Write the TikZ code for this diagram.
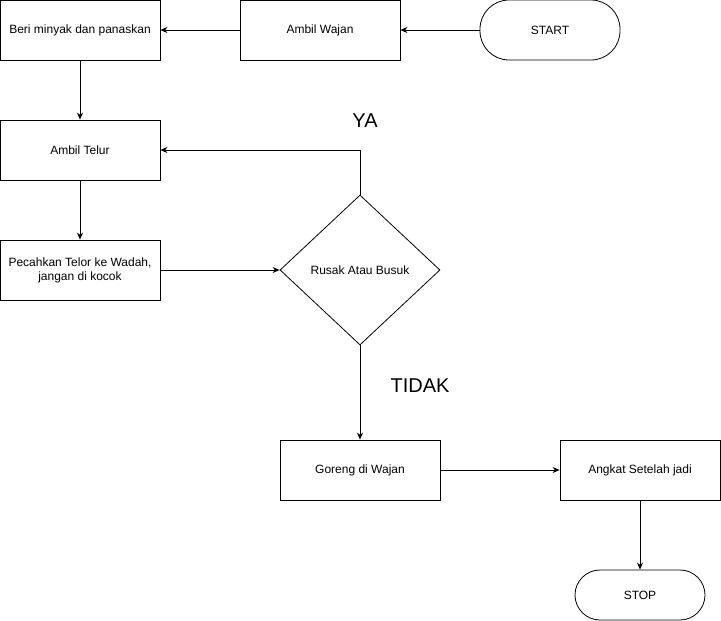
\documentclass[tikz,border=0pt]{standalone}
\usepackage{fontspec}
\setmainfont{Liberation Sans}
\usetikzlibrary{arrows.meta,shapes.geometric}

\begin{document}
\begin{tikzpicture}[x=1pt,y=-1pt,
  every node/.style={font=\fontsize{12}{14}\selectfont, align=center},
  box/.style={draw, line width=0.8pt, minimum width=160pt, minimum height=60pt, inner sep=0pt},
  terminal/.style={draw, line width=0.8pt, rounded corners=25pt, minimum height=60pt, inner sep=0pt},
  decision/.style={draw, line width=0.8pt, diamond, aspect=1.0667, minimum width=160pt, minimum height=150pt, inner sep=0pt},
  flow/.style={draw, line width=0.8pt, -{Stealth[length=7pt,width=6pt]}},
  answer/.style={font=\fontsize{20}{24}\selectfont}]
\path[use as bounding box, fill=white] (0,0) rectangle (721,621);

\node[terminal, minimum width=140pt, rounded corners=29pt] (start) at (550,30) {START};
\node[box] (wajan) at (320,30) {Ambil Wajan};
\node[box] (minyak) at (80,30) {Beri minyak dan panaskan};
\node[box] (telur) at (80,150) {Ambil Telur};
\node[box] (pecah) at (80,270) {Pecahkan Telor ke Wadah,\\jangan di kocok};
\node[decision] (cek) at (360,270) {Rusak Atau Busuk};
\node[box] (goreng) at (360,470) {Goreng di Wajan};
\node[box] (angkat) at (640,470) {Angkat Setelah jadi};
\node[terminal, minimum width=130pt, minimum height=50pt] (stop) at (640,595) {STOP};

\node[answer] (ya) at (365,121) {YA};
\node[answer] (tidak) at (420,386) {TIDAK};

\draw[flow] (start) -- (wajan);
\draw[flow] (wajan) -- (minyak);
\draw[flow] (minyak) -- (telur);
\draw[flow] (telur) -- (pecah);
\draw[flow] (pecah) -- (cek);
\draw[flow] (cek.north) |- (telur.east);
\draw[flow] (cek.south) -- (goreng);
\draw[flow] (goreng) -- (angkat);
\draw[flow] (angkat) -- (stop);
\end{tikzpicture}
\end{document}
